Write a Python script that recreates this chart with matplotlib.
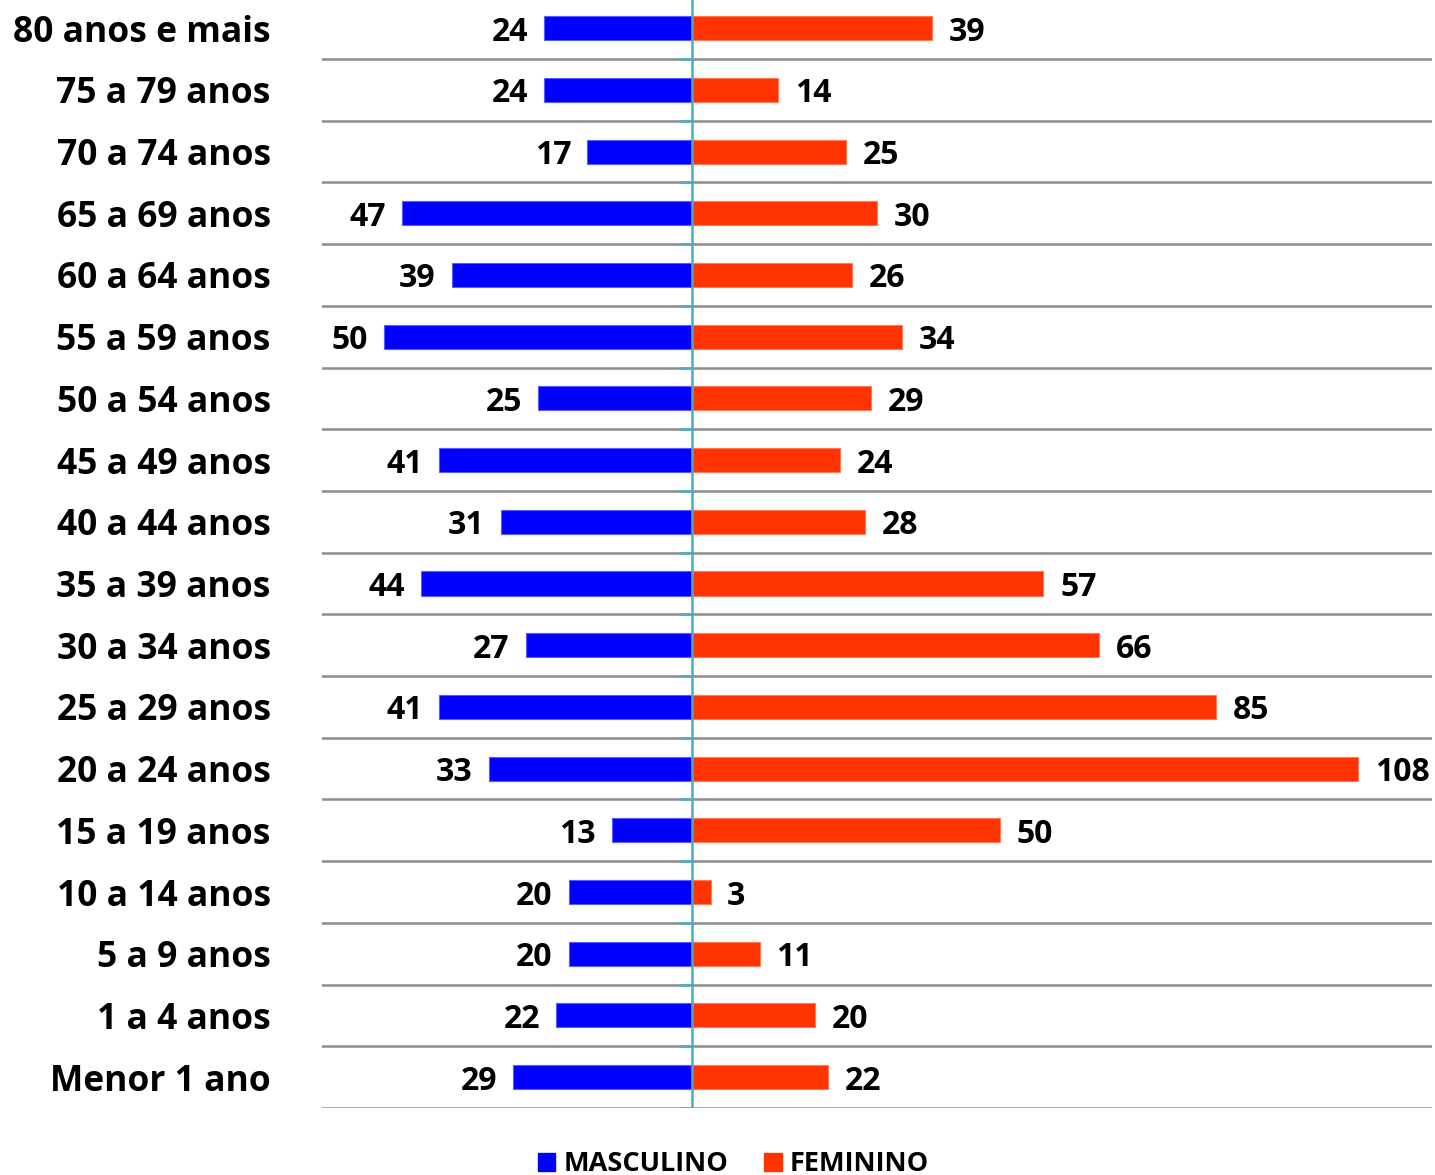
import matplotlib
matplotlib.use("Agg")
import matplotlib.pyplot as plt
from matplotlib.patches import Patch
import numpy as np

categories = ["Menor 1 ano", "1 a 4 anos", "5 a 9 anos", "10 a 14 anos", "15 a 19 anos",
              "20 a 24 anos", "25 a 29 anos", "30 a 34 anos", "35 a 39 anos", "40 a 44 anos",
              "45 a 49 anos", "50 a 54 anos", "55 a 59 anos", "60 a 64 anos", "65 a 69 anos",
              "70 a 74 anos", "75 a 79 anos", "80 anos e mais"]
masculino = [29, 22, 20, 20, 13, 33, 41, 27, 44, 31, 41, 25, 50, 39, 47, 17, 24, 24]
feminino = [22, 20, 11, 3, 50, 108, 85, 66, 57, 28, 24, 29, 34, 26, 30, 25, 14, 39]
series_names = ["MASCULINO", "FEMININO"]

BLUE = "#0000FF"
RED = "#FF3300"
TEAL = "#4BACC6"
GRID = "#8C8C8C"
FONT = "Open Sans"

plt.rcParams["font.family"] = [FONT, "DejaVu Sans"]
plt.rcParams["font.weight"] = "bold"

fig = plt.figure(figsize=(14.35, 11.75), dpi=100)
ax = fig.add_axes([0.2244, 0.0570, 0.7735, 0.9453])

y = np.arange(len(categories))
h = 0.39
ax.barh(y, [-v for v in masculino], height=h, color=BLUE, edgecolor="#5A5AFF", linewidth=0.8, zorder=3)
ax.barh(y, feminino, height=h, color=RED, edgecolor="#FF7A5A", linewidth=0.8, zorder=3)

ax.set_xlim(-60, 120)
ax.set_ylim(-0.5, len(categories) - 0.5)

# gridlines at category boundaries
bounds = np.arange(len(categories) + 1) - 0.5
for b in bounds:
    ax.axhline(b, color=GRID, lw=1.8, zorder=1)
# center axis line and small ticks
ax.axvline(0, color=TEAL, lw=1.8, zorder=4)
ax.hlines(bounds, -2.1, 0, color=TEAL, lw=1.8, zorder=4)

for spine in ax.spines.values():
    spine.set_visible(False)
ax.set_xticks([])
ax.set_yticks(y)
ax.set_yticklabels(categories, fontsize=25.5, fontweight="bold", fontfamily=FONT)
ax.tick_params(axis="y", length=0, pad=37)
for lab in ax.get_yticklabels():
    lab.set_va("center_baseline")

for yi, m, f in zip(y, masculino, feminino):
    ax.annotate(str(m), (-m, yi), xytext=(-11.5, 0), textcoords="offset points",
                ha="right", va="center_baseline", fontsize=23, fontweight="bold", zorder=5)
    ax.annotate(str(f), (f, yi), xytext=(12, 0), textcoords="offset points",
                ha="left", va="center_baseline", fontsize=23, fontweight="bold", zorder=5)

handles = [Patch(facecolor=BLUE, edgecolor=BLUE), Patch(facecolor=RED, edgecolor=RED)]
leg = fig.legend(handles, series_names, loc="center", bbox_to_anchor=(0.511, 0.009),
                 ncol=2, frameon=False, fontsize=19.5, handlelength=0.66, handleheight=0.66,
                 handletextpad=0.3, columnspacing=1.3, borderaxespad=0, borderpad=0)
for t in leg.get_texts():
    t.set_fontweight("bold")

fig.savefig("out.png", dpi=100)
